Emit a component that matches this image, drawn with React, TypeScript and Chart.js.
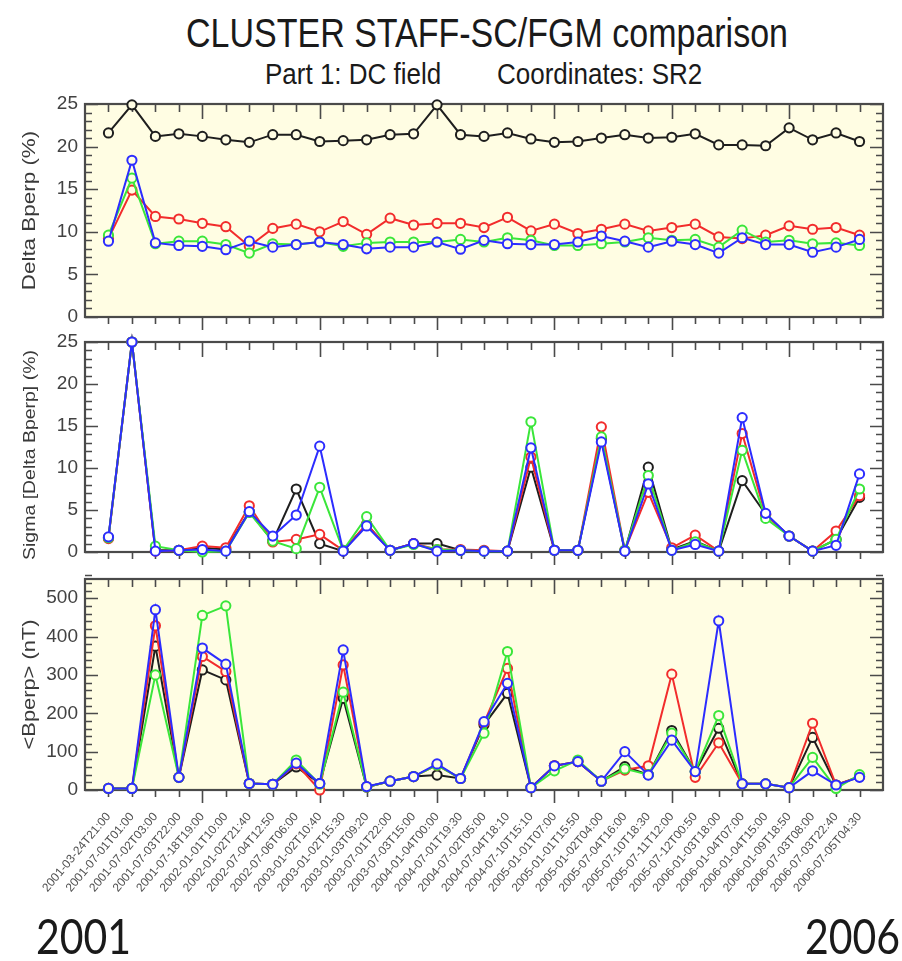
import { useEffect, useRef } from "react";
import { Chart, registerables } from "chart.js";

Chart.register(...registerables);

// Event start times (one comparison interval per entry)
const eventTimes = [
  "2001-03-24T21:00", "2001-07-01T01:00", "2001-07-02T03:00", "2001-07-03T22:00",
  "2001-07-18T19:00", "2002-01-01T10:00", "2002-01-02T21:40", "2002-07-04T12:50",
  "2002-07-06T06:00", "2003-01-02T10:40", "2003-01-02T15:30", "2003-01-03T09:20",
  "2003-07-01T22:00", "2003-07-03T15:00", "2004-01-04T00:00", "2004-07-01T19:30",
  "2004-07-02T05:00", "2004-07-04T18:10", "2004-07-10T15:10", "2005-01-01T07:00",
  "2005-01-01T15:50", "2005-01-02T04:00", "2005-07-04T16:00", "2005-07-10T18:30",
  "2005-07-11T12:00", "2005-07-12T00:50", "2006-01-03T18:00", "2006-01-04T07:00",
  "2006-01-04T15:00", "2006-01-09T18:50", "2006-07-03T08:00", "2006-07-03T22:40",
  "2006-07-05T04:30",
];

// Spacecraft 1..4: black, red, green, blue
const scColors = ["#1e1e1e", "#f22c2c", "#3ae63a", "#2c2cff"];

// Delta Bperp (%)
const deltaSc1 = [21.6, 24.9, 21.2, 21.5, 21.2, 20.8, 20.5, 21.4, 21.4, 20.6, 20.7, 20.8, 21.4, 21.5, 24.9, 21.4, 21.2, 21.6, 20.9, 20.5, 20.6, 21.0, 21.4, 21.0, 21.1, 21.5, 20.2, 20.2, 20.1, 22.2, 20.8, 21.6, 20.6];
const deltaSc2 = [9.2, 14.9, 11.8, 11.5, 11.0, 10.6, 8.3, 10.4, 10.9, 10.0, 11.2, 9.7, 11.6, 10.8, 11.0, 11.0, 10.5, 11.7, 10.1, 10.9, 9.8, 10.3, 10.9, 10.1, 10.5, 10.9, 9.4, 9.2, 9.6, 10.7, 10.3, 10.5, 9.6];
const deltaSc3 = [9.6, 16.3, 8.6, 8.9, 8.9, 8.5, 7.5, 8.6, 8.5, 8.8, 8.3, 8.7, 8.8, 8.8, 8.8, 9.1, 8.8, 9.3, 9.0, 8.4, 8.4, 8.6, 8.8, 9.3, 9.0, 9.1, 8.2, 10.2, 8.8, 9.0, 8.6, 8.7, 8.4];
const deltaSc4 = [8.9, 18.4, 8.7, 8.4, 8.3, 7.9, 8.9, 8.2, 8.5, 8.8, 8.5, 8.0, 8.2, 8.2, 8.8, 7.95, 9.0, 8.6, 8.5, 8.5, 8.8, 9.5, 8.9, 8.2, 8.9, 8.5, 7.5, 9.3, 8.5, 8.5, 7.6, 8.2, 9.1];

// Sigma [Delta Bperp] (%)
const sigmaSc1 = [1.7, 25, 0.2, 0.2, 0.5, 0.3, 4.8, 1.3, 7.5, 1.0, 0.1, 3.3, 0.2, 1.0, 1.0, 0.2, 0.1, 0.1, 10.1, 0.2, 0.2, 13.5, 0.1, 10.1, 0.3, 1.3, 0.1, 8.5, 4.5, 1.9, 0.1, 1.5, 6.5];
const sigmaSc2 = [1.6, 25, 0.1, 0.2, 0.7, 0.5, 5.5, 1.2, 1.5, 2.1, 0.2, 3.3, 0.2, 1.0, 0.3, 0.3, 0.2, 0.1, 11.3, 0.2, 0.2, 14.9, 0.2, 7.1, 0.5, 2.0, 0.1, 14.1, 4.4, 1.9, 0.1, 2.5, 6.7];
const sigmaSc3 = [1.7, 25, 0.7, 0.2, 0.0, 0.1, 4.7, 1.3, 0.4, 7.7, 0.2, 4.2, 0.2, 0.9, 0.3, 0.2, 0.1, 0.1, 15.5, 0.2, 0.2, 13.7, 0.2, 9.1, 0.2, 1.2, 0.1, 12.1, 4.0, 1.9, 0.1, 1.5, 7.5];
const sigmaSc4 = [1.8, 25, 0.1, 0.2, 0.3, 0.1, 4.8, 1.9, 4.4, 12.6, 0.1, 3.1, 0.2, 1.0, 0.1, 0.2, 0.1, 0.1, 12.4, 0.2, 0.2, 13.1, 0.1, 8.1, 0.2, 0.9, 0.1, 16.0, 4.6, 1.9, 0.1, 0.8, 9.3];

// <Bperp> (nT)
const bperpSc1 = [4, 4, 375, 33, 313, 287, 17, 15, 60, 17, 239, 8, 23, 35, 39, 30, 170, 252, 6, 63, 74, 23, 61, 40, 155, 48, 161, 16, 16, 6, 137, 13, 35];
const bperpSc2 = [4, 4, 428, 33, 348, 309, 17, 15, 68, 0, 326, 8, 23, 35, 65, 30, 175, 317, 6, 63, 74, 23, 52, 63, 302, 33, 123, 16, 16, 6, 174, 13, 35];
const bperpSc3 = [4, 4, 300, 33, 455, 480, 17, 15, 78, 15, 255, 8, 23, 35, 65, 30, 148, 361, 6, 50, 78, 23, 55, 40, 148, 48, 194, 16, 16, 6, 85, 4, 40];
const bperpSc4 = [4, 4, 470, 33, 370, 328, 17, 15, 70, 17, 365, 9, 23, 35, 68, 30, 178, 278, 6, 63, 74, 23, 100, 39, 130, 48, 441, 16, 16, 6, 50, 13, 33];

const percentTicks = [0, 5, 10, 15, 20, 25];
const fieldTicks = [0, 100, 200, 300, 400, 500];

const FONT = '"Liberation Sans", Arial, Helvetica, sans-serif';
const PANEL_YELLOW = "#fffde3";

// Box frame with inward ticks (outward on the bottom edge) and a stretched y title
const framePlugin = {
  id: "idlFrame",
  beforeDraw(chart: any, _args: any, o: any) {
    const { ctx, chartArea: a } = chart;
    ctx.save();
    ctx.fillStyle = o.background;
    ctx.fillRect(a.left, a.top, a.right - a.left, a.bottom - a.top);
    ctx.restore();
  },
  beforeDatasetsDraw(chart: any, _args: any, o: any) {
    const { ctx, chartArea: a } = chart;
    const xs = chart.scales.x;
    const ys = chart.scales.y;
    ctx.save();
    ctx.strokeStyle = "#4a4a4a";
    ctx.lineWidth = 1.6;
    ctx.beginPath();
    for (let i = 0; i < eventTimes.length; i++) {
      const px = Math.round(xs.getPixelForValue(i)) + 0.5;
      const major = (i + 1) % 5 === 0;
      ctx.moveTo(px, a.top);
      ctx.lineTo(px, a.top + (major ? 15 : 8));
      ctx.moveTo(px, a.bottom);
      ctx.lineTo(px, a.bottom + (major ? 13 : 7));
    }
    const steps = Math.round(o.yMax / o.yMinor);
    for (let k = 0; k <= steps; k++) {
      const v = k * o.yMinor;
      const py = Math.round(ys.getPixelForValue(v)) + 0.5;
      const major = Math.abs(v / o.yMajor - Math.round(v / o.yMajor)) < 1e-6;
      const len = major ? 13 : 7;
      ctx.moveTo(a.left, py);
      ctx.lineTo(a.left + len, py);
      ctx.moveTo(a.right, py);
      ctx.lineTo(a.right - len, py);
    }
    ctx.stroke();
    ctx.lineWidth = 2.2;
    ctx.strokeRect(a.left, a.top, a.right - a.left, a.bottom - a.top);

    ctx.translate(o.titleX, (a.top + a.bottom) / 2 + (o.titleShift || 0));
    ctx.rotate(-Math.PI / 2);
    ctx.scale(1.18, 1);
    ctx.font = `${o.titleSize}px ${FONT}`;
    ctx.fillStyle = "#3a3a3a";
    ctx.textAlign = "center";
    ctx.textBaseline = "middle";
    ctx.fillText(o.title, 0, 0);
    ctx.restore();
  },
};

type PanelProps = {
  top: number;
  height: number;
  padTop: number;
  padBottom: number;
  yMax: number;
  yTicks: number[];
  yMinor: number;
  yMajor: number;
  title: string;
  titleSize: number;
  titleShift?: number;
  background: string;
  series: number[][];
  showDates: boolean;
  xHeight: number;
};

function Panel(p: PanelProps) {
  const ref = useRef<HTMLCanvasElement | null>(null);

  useEffect(() => {
    if (!ref.current) return;
    const chart = new Chart(ref.current, {
      type: "line",
      data: {
        datasets: p.series.map((vals, k) => ({
          data: vals.map((v, i) => ({ x: i, y: v })),
          borderColor: scColors[k],
          pointBorderColor: scColors[k],
          pointBackgroundColor: p.background,
          borderWidth: 2,
          pointRadius: 4.6,
          pointHoverRadius: 4.6,
          pointBorderWidth: 2,
          tension: 0,
          clip: false,
          order: 3 - k,
        })),
      },
      options: {
        animation: false,
        responsive: false,
        maintainAspectRatio: false,
        devicePixelRatio: 1,
        events: [],
        layout: { padding: { top: p.padTop, bottom: p.padBottom, left: 0, right: 19 } },
        plugins: {
          legend: { display: false },
          tooltip: { enabled: false },
          idlFrame: {
            background: p.background,
            yMax: p.yMax,
            yMinor: p.yMinor,
            yMajor: p.yMajor,
            title: p.title,
            titleSize: p.titleSize,
            titleShift: p.titleShift,
            titleX: 30,
          },
        } as any,
        scales: {
          x: {
            type: "linear",
            min: -1,
            max: 33,
            display: p.showDates,
            afterBuildTicks: (s: any) => {
              s.ticks = eventTimes.map((_, i) => ({ value: i }));
            },
            afterFit: (s: any) => {
              if (p.showDates) s.height = p.xHeight;
            },
            grid: { display: false, drawTicks: false },
            border: { display: false },
            ticks: {
              autoSkip: false,
              minRotation: 50,
              maxRotation: 50,
              padding: 20,
              color: "#505050",
              font: { family: FONT, size: 12 },
              callback: (v: any) => eventTimes[v as number] ?? "",
            },
          },
          y: {
            min: 0,
            max: p.yMax,
            afterBuildTicks: (s: any) => {
              s.ticks = p.yTicks.map((v) => ({ value: v }));
            },
            afterFit: (s: any) => {
              s.width = 85;
            },
            grid: { display: false, drawTicks: false },
            border: { display: false },
            ticks: {
              padding: 7,
              color: "#424242",
              font: { family: FONT, size: 19 },
            },
          },
        },
      },
      plugins: [framePlugin as any],
    });
    return () => chart.destroy();
  }, []);

  return (
    <canvas
      ref={ref}
      width={902}
      height={p.height}
      style={{ position: "absolute", left: 0, top: p.top, width: 902, height: p.height }}
    />
  );
}

const textBase: any = {
  position: "absolute",
  whiteSpace: "nowrap",
  fontFamily: FONT,
  color: "#1a1a1a",
  transformOrigin: "top left",
};

export default function App() {
  return (
    <div
      style={{
        position: "absolute",
        left: 0,
        top: 0,
        width: 902,
        height: 961,
        background: "#ffffff",
        overflow: "hidden",
      }}
    >
      <div
        style={{
          ...textBase,
          left: 0,
          width: 974,
          textAlign: "center",
          top: 13,
          fontSize: 34,
          lineHeight: "34px",
          transform: "scaleY(1.17)",
          transformOrigin: "top center",
        }}
      >
        CLUSTER STAFF-SC/FGM comparison
      </div>
      <div style={{ ...textBase, left: 265, top: 58, fontSize: 26, lineHeight: "26px", transform: "scaleY(1.17)" }}>
        Part 1: DC field
      </div>
      <div style={{ ...textBase, left: 497, top: 58, fontSize: 26, lineHeight: "26px", transform: "scaleY(1.17)" }}>
        Coordinates: SR2
      </div>

      <Panel
        top={80}
        height={261}
        padTop={24}
        padBottom={24}
        yMax={25}
        yTicks={percentTicks}
        yMinor={1}
        yMajor={5}
        title="Delta Bperp (%)"
        titleSize={19}
        background={PANEL_YELLOW}
        series={[deltaSc1, deltaSc2, deltaSc3, deltaSc4]}
        showDates={false}
        xHeight={0}
      />
      <Panel
        top={318}
        height={258}
        padTop={24}
        padBottom={24}
        yMax={25}
        yTicks={percentTicks}
        yMinor={1}
        yMajor={5}
        title="Sigma [Delta Bperp] (%)"
        titleSize={16.5}
        titleShift={8}
        background="#ffffff"
        series={[sigmaSc1, sigmaSc2, sigmaSc3, sigmaSc4]}
        showDates={false}
        xHeight={0}
      />
      <Panel
        top={555}
        height={355}
        padTop={24}
        padBottom={0}
        yMax={550}
        yTicks={fieldTicks}
        yMinor={20}
        yMajor={100}
        title="<Bperp> (nT)"
        titleSize={18.5}
        background={PANEL_YELLOW}
        series={[bperpSc1, bperpSc2, bperpSc3, bperpSc4]}
        showDates={true}
        xHeight={120}
      />

      <div style={{ ...textBase, left: 36, top: 912, fontFamily: "Lato, sans-serif", fontSize: 41, lineHeight: "41px", transform: "scaleY(1.17)" }}>
        2001
      </div>
      <div style={{ ...textBase, left: 805, top: 912, fontFamily: "Lato, sans-serif", fontSize: 41, lineHeight: "41px", transform: "scaleY(1.17)" }}>
        2006
      </div>
    </div>
  );
}
